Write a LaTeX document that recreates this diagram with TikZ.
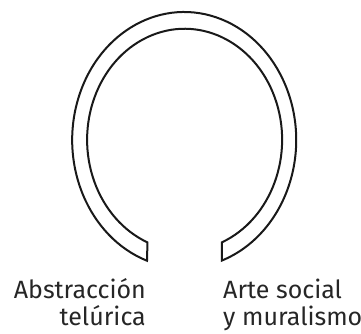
\documentclass[tikz,border=0pt]{standalone}
\usepackage{fontspec}
\setmainfont{Fira Sans}
\begin{document}
\begin{tikzpicture}[x=1pt,y=1pt]
\useasboundingbox (0,0) rectangle (361,333);
\coordinate (c) at (184.2,193);
\draw[line width=2pt,black!90,line join=miter]
  (c) ++(250.6:112 and 128)
  arc[start angle=250.6,end angle=-70.4,x radius=112,y radius=128]
  -- ++(0,18.2)
  arc[start angle=-67.6,end angle=247.6,x radius=97.5,y radius=111]
  -- cycle;
\node[anchor=base east,align=right,inner sep=0pt,font=\fontsize{25}{26.7}\selectfont,text=black!85] (abs) at (146,8) {Abstracción\\telúrica};
\node[anchor=base west,align=left,inner sep=0pt,font=\fontsize{25}{26.7}\selectfont,text=black!85] (arte) at (223,8) {Arte social\\y muralismo};
\end{tikzpicture}
\end{document}
